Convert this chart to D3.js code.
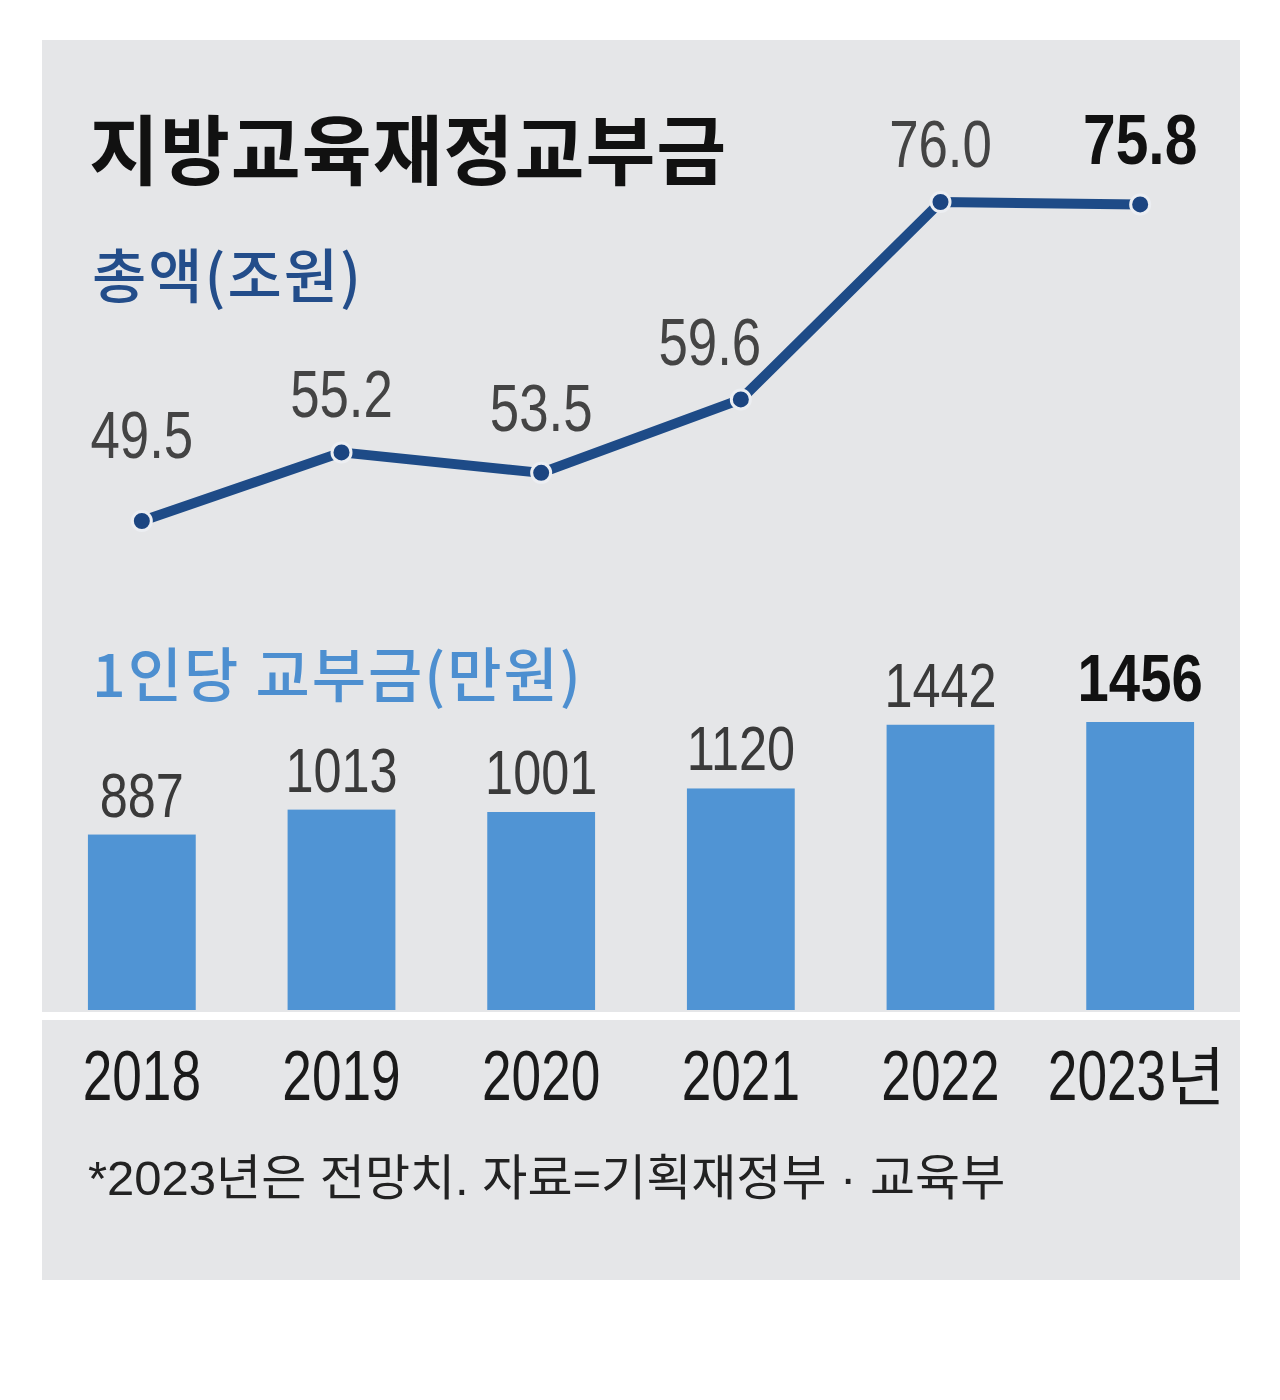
<!DOCTYPE html>
<html>
<head>
<meta charset="utf-8">
<script src="https://cdn.jsdelivr.net/npm/d3@7"></script>
<style>
  body { margin: 0; background: #fff; }
  svg { display: block; }
</style>
</head>
<body>
<div id="chart"></div>
<script>
const years = ["2018", "2019", "2020", "2021", "2022", "2023"];
const totalTrillion = [49.5, 55.2, 53.5, 59.6, 76.0, 75.8];   // 총액(조원)
const perStudent = [887, 1013, 1001, 1120, 1442, 1456];       // 1인당 교부금(만원)
const lastSuffix = "년";

const width = 1280, height = 1400;
const numFont = "'Liberation Sans', Arial, sans-serif";
const krFont = "'Noto Sans CJK KR', 'Noto Sans', sans-serif";

// label nudges for the line values (hand placed in the original)
const lineNudge = { "2018": [0, -63], "2020": [0, -42], "2021": [-31, -34], "2023": [0, -40] };

const svg = d3.select("#chart").append("svg")
  .attr("width", width)
  .attr("height", height);

// panel
svg.append("rect")
  .attr("x", 42).attr("y", 40)
  .attr("width", 1198).attr("height", 1240)
  .attr("fill", "#e5e6e8");

const x = d3.scaleBand()
  .domain(years)
  .range([42, 1240])
  .paddingInner(0.46)
  .paddingOuter(0.23);

const cx = d => x(d) + x.bandwidth() / 2;

const yLine = d3.scaleLinear().domain([49.5, 76]).range([521, 202]);
const yBar = d3.scaleLinear().domain([0, 1456]).range([1010, 722]);

// title + sub titles
svg.append("text")
  .attr("x", 89).attr("y", 179)
  .style("font-family", krFont).style("font-weight", 700)
  .style("font-size", "76px").style("letter-spacing", "1px")
  .attr("fill", "#111")
  .text("지방교육재정교부금");

svg.append("text")
  .attr("x", 92).attr("y", 298)
  .style("font-family", krFont).style("font-weight", 500)
  .style("font-size", "59px").style("letter-spacing", "2px")
  .attr("fill", "#234d8a")
  .text("총액(조원)");

svg.append("text")
  .attr("x", 92).attr("y", 697)
  .style("font-family", krFont).style("font-weight", 500)
  .style("font-size", "59px").style("letter-spacing", "2px")
  .attr("fill", "#4d8fd0")
  .text("1인당 교부금(만원)");

// bars
const barData = years.map((y, i) => ({ year: y, value: perStudent[i], last: i === years.length - 1 }));

svg.selectAll(".bar")
  .data(barData)
  .enter().append("rect")
  .attr("class", "bar")
  .attr("x", d => x(d.year))
  .attr("y", d => yBar(d.value))
  .attr("width", x.bandwidth())
  .attr("height", d => yBar(0) - yBar(d.value))
  .attr("fill", "#5094d4");

svg.selectAll(".bar-label")
  .data(barData)
  .enter().append("text")
  .attr("class", "bar-label")
  .attr("transform", d => `translate(${cx(d.year)},${yBar(d.value) - (d.last ? 21 : 18)}) scale(${d.last ? 0.84 : 0.8},1)`)
  .style("text-anchor", "middle")
  .style("font-family", numFont)
  .style("font-weight", d => d.last ? 700 : 400)
  .style("font-size", d => d.last ? "67px" : "63px")
  .attr("fill", d => d.last ? "#111" : "#3a3a3a")
  .text(d => d.value);

// white separator under the bars
svg.append("rect")
  .attr("x", 42).attr("y", 1012)
  .attr("width", 1198).attr("height", 8)
  .attr("fill", "#fff");

// line
const lineData = years.map((y, i) => ({ year: y, value: totalTrillion[i], last: i === years.length - 1 }));

const line = d3.line()
  .x(d => cx(d.year))
  .y(d => yLine(d.value));

svg.append("path")
  .datum(lineData)
  .attr("d", line)
  .attr("fill", "none")
  .attr("stroke", "#1e4b87")
  .attr("stroke-width", 10)
  .attr("stroke-linejoin", "round");

svg.selectAll(".dot")
  .data(lineData)
  .enter().append("circle")
  .attr("class", "dot")
  .attr("cx", d => cx(d.year))
  .attr("cy", d => yLine(d.value))
  .attr("r", 9.5)
  .attr("fill", "#1c4581")
  .attr("stroke", "#eceef2")
  .attr("stroke-width", 3);

svg.selectAll(".line-label")
  .data(lineData)
  .enter().append("text")
  .attr("class", "line-label")
  .attr("transform", d => {
    const n = lineNudge[d.year] || [0, -35];
    return `translate(${cx(d.year) + n[0]},${yLine(d.value) + n[1]}) scale(${d.last ? 0.84 : 0.8},1)`;
  })
  .style("text-anchor", "middle")
  .style("font-family", numFont)
  .style("font-weight", d => d.last ? 700 : 400)
  .style("font-size", d => d.last ? "70px" : "66px")
  .attr("fill", d => d.last ? "#111" : "#444")
  .text(d => d3.format(".1f")(d.value));

// x axis
const xAxis = svg.append("g")
  .attr("transform", "translate(0,1100)")
  .call(d3.axisBottom(x).tickSize(0));

xAxis.select(".domain").remove();

xAxis.selectAll(".tick text")
  .attr("y", 0).attr("dy", 0)
  .attr("fill", "#1a1a1a")
  .style("font-family", numFont)
  .style("font-size", "70px")
  .attr("transform", "scale(0.76,1)");

const lastTick = xAxis.selectAll(".tick").filter(d => d === years[years.length - 1]);
lastTick.select("text")
  .style("text-anchor", "end")
  .attr("transform", "translate(26,0) scale(0.76,1)");
lastTick.append("text")
  .attr("x", 26).attr("y", 0)
  .attr("fill", "#1a1a1a")
  .style("text-anchor", "start")
  .style("font-family", krFont)
  .style("font-size", "64px")
  .text(lastSuffix);

// footnote
svg.append("text")
  .attr("x", 88).attr("y", 1195)
  .style("font-family", `${numFont.split(",")[0]}, ${krFont}`)
  .style("font-size", "49px")
  .attr("fill", "#222")
  .text("*2023년은 전망치. 자료=기획재정부 · 교육부");
</script>
</body>
</html>
